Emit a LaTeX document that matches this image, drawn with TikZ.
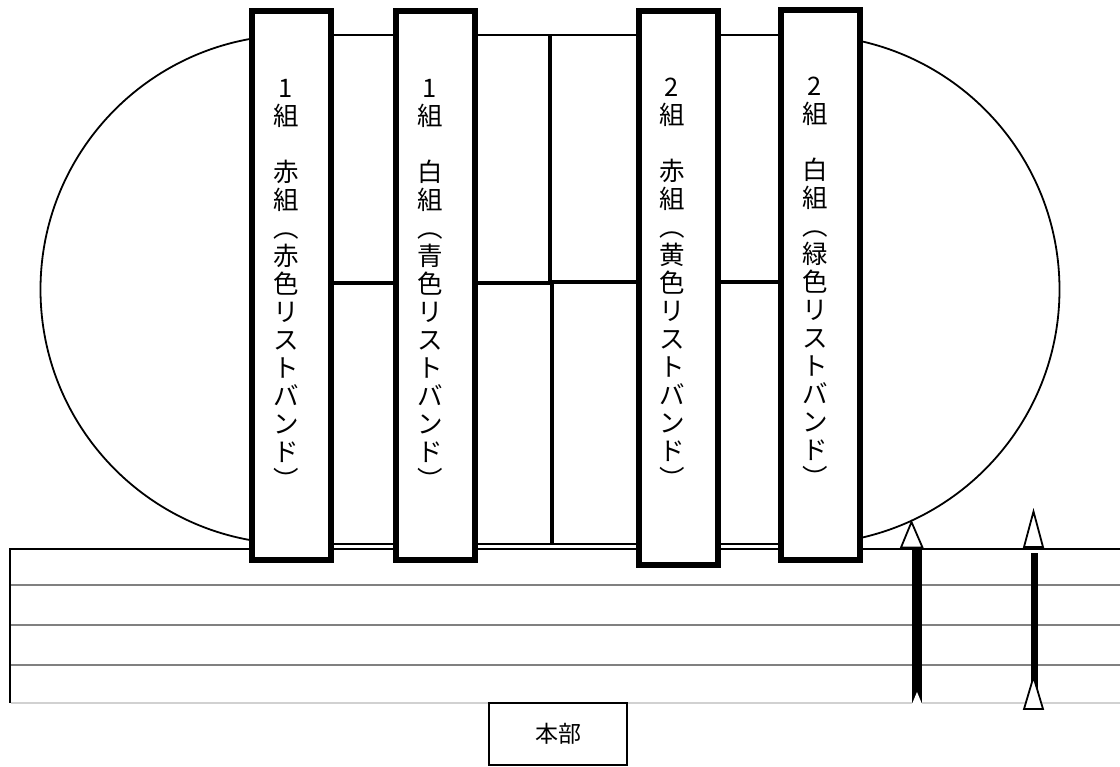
\documentclass[tikz,border=0pt]{standalone}
\usepackage{fontspec}
\setmainfont{Noto Sans CJK JP}
\usetikzlibrary{positioning}

\tikzset{
  team/.style={draw, fill=white, line width=6pt, minimum width=79pt, minimum height=549pt, inner sep=0pt},
  tate/.style={align=center, inner sep=0pt, font=\fontsize{25.5}{28}\selectfont},
  field/.style={line width=1.8pt},
  divider/.style={line width=3.2pt},
  lane/.style={gray, line width=1.5pt},
  tri/.style={draw, fill=white, line width=1.8pt, line join=miter},
  hq/.style={draw, line width=2pt, minimum width=138pt, minimum height=62pt, font=\fontsize{23}{23}\selectfont}
}

\begin{document}
\begin{tikzpicture}[x=1pt, y=-1pt]
    \useasboundingbox (0,0) rectangle (1120,767);

    % Field
    \draw[field] (295,35) -- (805,35) arc[start angle=90, end angle=-90, radius=254.5pt]
      -- (295,544) arc[start angle=270, end angle=90, radius=254.5pt] -- cycle;
    \draw[divider] (550,35) -- (550,283);
    \draw[divider] (552,283) -- (552,544);
    \draw[divider] (334,283) -- (393,283);
    \draw[divider] (478,283) -- (552,283);
    \draw[divider] (552,282) -- (636,282);
    \draw[divider] (721,282) -- (778,282);

    % Track
    \draw[line width=2pt] (1120,549) -- (10,549) -- (10,703);
    \foreach \y in {585,625,665}
      \draw[lane] (11,\y) -- (1120,\y);
    \draw[black!18, line width=1.5pt] (11,703) -- (1120,703);

    % Teams
    \node[team] (b1) at (291.5,285.5) {};
    \node[team, right=59pt of b1] (b2) {};
    \node[team, right=158pt of b2, minimum height=554pt, yshift=-2.5pt] (b3) {};
    \node[team, right=57pt of b3, yshift=3pt] (b4) {};

    \node[tate] (t1) at ([shift={(-5.5,-1)}]b1.center) {1\\組\\　\\赤\\組\\︵\\赤\\色\\リ\\ス\\ト\\バ\\ン\\ド\\︶};
    \node[tate] (t2) at ([shift={(-5.5,-1)}]b2.center) {1\\組\\　\\白\\組\\︵\\青\\色\\リ\\ス\\ト\\バ\\ン\\ド\\︶};
    \node[tate] (t3) at ([shift={(-6.5,-4.5)}]b3.center) {2\\組\\　\\赤\\組\\︵\\黄\\色\\リ\\ス\\ト\\バ\\ン\\ド\\︶};
    \node[tate] (t4) at ([shift={(-5.5,-2.5)}]b4.center) {2\\組\\　\\白\\組\\︵\\緑\\色\\リ\\ス\\ト\\バ\\ン\\ド\\︶};

    % Arrows
    \coordinate (a1top) at (917,548);
    \coordinate (a1bot) at (917,703);
    \draw[line width=10pt] (a1bot) -- (a1top);
    \fill[white] (912,704) -- (917,692) -- (922,704) -- cycle;
    \draw[tri] (911.5,522) -- (901,547.5) -- (922.5,547.5) -- cycle;

    \coordinate (a2top) at (1034,553);
    \coordinate (a2bot) at (1034,690);
    \draw[line width=7pt] (a2bot) -- (a2top);
    \draw[tri] (1033.5,511.5) -- (1024,547) -- (1043,547) -- cycle;
    \draw[tri] (1033.5,677) -- (1024,709) -- (1043,709) -- cycle;

    % Headquarters
    \node[hq] (hq) at (558,733.5) {本部};
\end{tikzpicture}
\end{document}
